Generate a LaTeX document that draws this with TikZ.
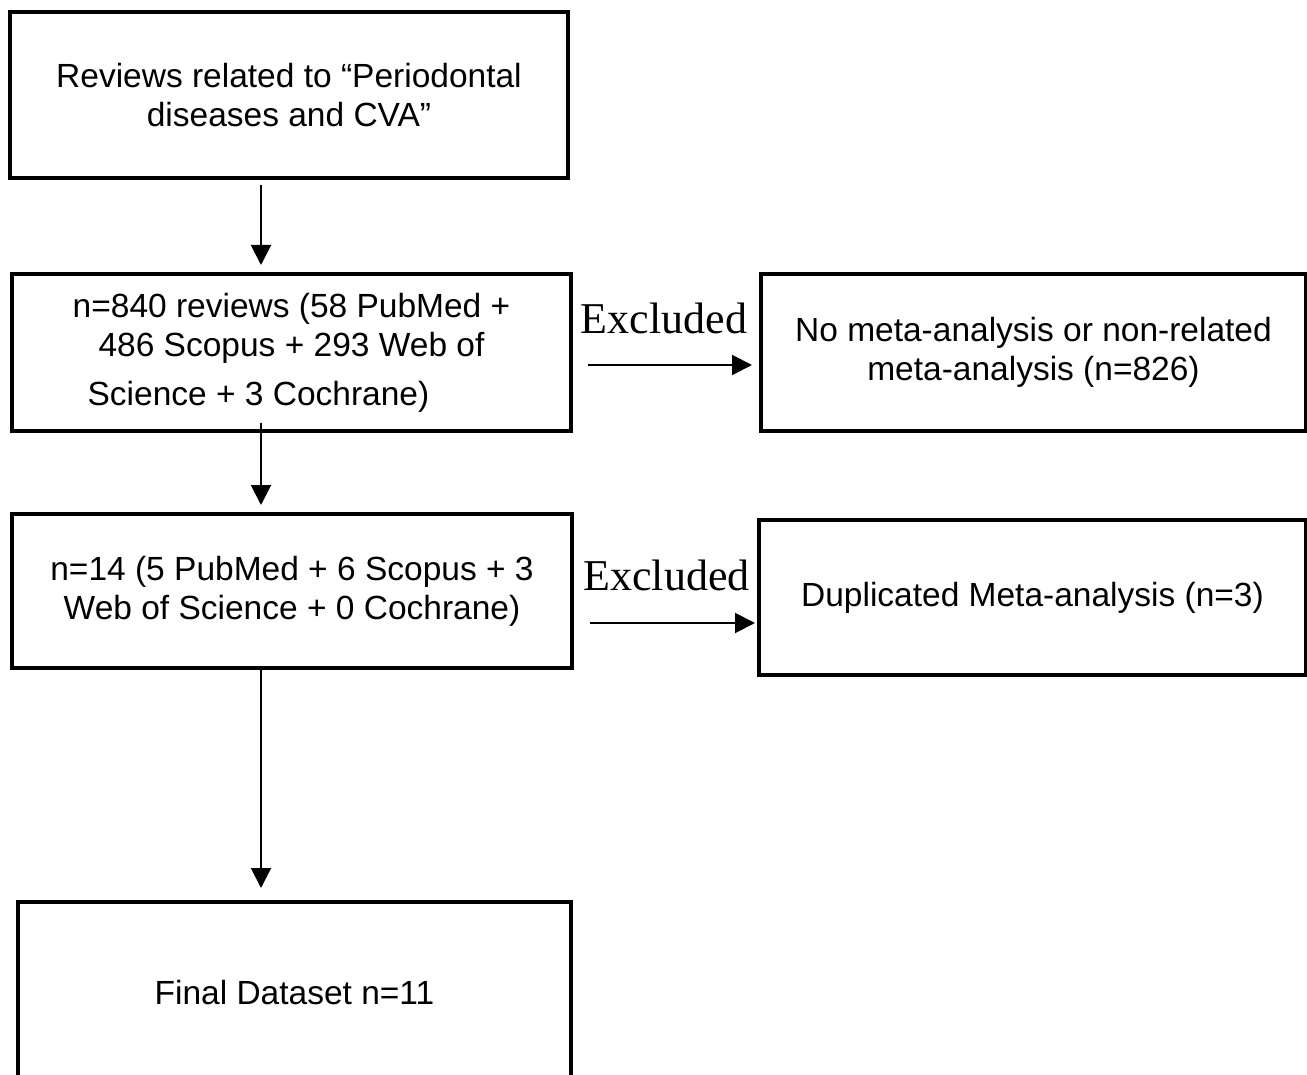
\documentclass[tikz,border=0pt]{standalone}
\usepackage{fontspec}
\setmainfont{Liberation Sans}
\newfontfamily\exfont{Liberation Serif}
\usepackage{tikz}
\usetikzlibrary{arrows.meta, positioning, calc}

\tikzset{
  box/.style={draw, line width=3.5pt, inner sep=0pt, outer sep=0pt, align=center,
              font=\fontsize{33.5}{39}\selectfont},
  arr/.style={line width=2pt, -{Triangle[length=20pt,width=20pt]}},
  exl/.style={inner sep=0pt, xshift=-6pt, font=\exfont\fontsize{44}{44}\selectfont}
}

\begin{document}
\begin{tikzpicture}[x=1pt, y=-1pt]
        \useasboundingbox (0,0) rectangle (1307,1075);
        \coordinate (spine) at (261,0);

        \node (reviews) [box, minimum width=558pt, minimum height=166pt, anchor=north west] at (10,12)
              {Reviews related to “Periodontal\\ diseases and CVA”};
        \node (n840) [box, minimum width=559pt, minimum height=157pt,
              below=96pt of reviews.south west, anchor=north west, xshift=2pt]
              {n=840 reviews (58 PubMed +\\ 486 Scopus + 293 Web of\\[10pt] Science + 3 Cochrane)\hspace*{66pt}};
        \node (nometa) [box, minimum width=545pt, minimum height=157pt,
              right=190pt of n840.north east, anchor=north west]
              {No meta-analysis or non-related\\ meta-analysis (n=826)};
        \node (n14) [box, minimum width=560pt, minimum height=154pt,
              below=83pt of n840.south west, anchor=north west]
              {n=14 (5 PubMed + 6 Scopus + 3\\ Web of Science + 0 Cochrane)};
        \node (dup) [box, minimum width=547pt, minimum height=155pt,
              right=187pt of n14.north east, anchor=north west, yshift=-6pt]
              {Duplicated Meta-analysis (n=3)};
        \node (final) [box, minimum width=553pt, minimum height=182pt,
              below=234pt of n14.south west, anchor=north west, xshift=6pt]
              {Final Dataset n=11};

        \draw[arr] ($(reviews.south -| spine)+(0,7)$) -- ($(n840.north -| spine)+(0,-9)$);
        \draw[arr] ($(n840.south -| spine)+(0,-8)$) -- ($(n14.north -| spine)+(0,-9)$);
        \draw[arr] ($(n14.south -| spine)+(0,2)$) -- ($(final.north -| spine)+(0,-14)$);

        \draw[arr] ($(n840.east)+(17,12.5)$) -- node[exl, above=30pt] {Excluded} ($(nometa.west)+(-9,12.5)$);
        \draw[arr] ($(n14.east)+(18,32)$) -- node[exl, above=31pt] {Excluded} ($(dup.west)+(-4,25.5)$);
\end{tikzpicture}
\end{document}
